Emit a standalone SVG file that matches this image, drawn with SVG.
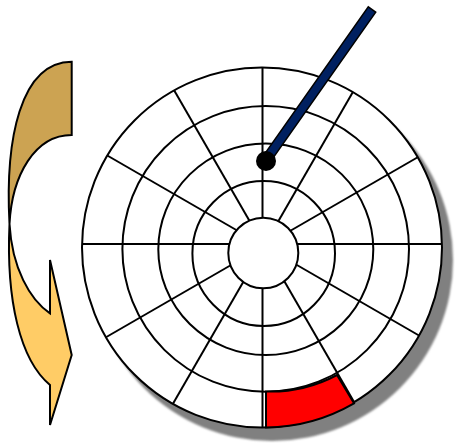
<svg xmlns="http://www.w3.org/2000/svg" width="456" height="447" viewBox="0 0 456 447">
  <style>
    .ln { stroke: #000; stroke-width: 2; fill: none; }
    .ring { stroke: #000; stroke-width: 2; fill: none; }
    .arrow { stroke: #000; stroke-width: 2; stroke-linejoin: miter; }
  </style>
  <defs>
    <filter id="blur" x="-10%" y="-10%" width="120%" height="120%">
      <feGaussianBlur stdDeviation="1"/>
    </filter>
    <clipPath id="disk">
      <circle cx="262" cy="247.5" r="180"/>
    </clipPath>
  </defs>
  <rect width="456" height="447" fill="#fff"/>

  <g id="arrow">
    <path class="arrow" fill="#CCA352" d="M71.7,61.7 L71.7,135 C35,135 12,175 9.5,224 C5,140 20,62 71.7,61.7 Z"/>
    <path class="arrow" fill="#FFCC66" d="M9.5,224 C6,300 20,360 50,385 L50,425 L71.7,355 L50,260 L50,313.3 C30,300 12,268 9.5,224 Z"/>
  </g>

  <g id="disk-shadow">
    <circle cx="272" cy="260" r="181" fill="#808080" filter="url(#blur)"/>
  </g>

  <g id="disk-node">
    <circle cx="262" cy="247.5" r="180" fill="#fff"/>
    <ellipse class="ring" cx="265.7" cy="248.9" rx="143.3" ry="142.8"/>
    <ellipse class="ring" cx="265.8" cy="249.2" rx="107.5" ry="105.8"/>
    <ellipse class="ring" cx="263.7" cy="253.5" rx="71.3" ry="72.5"/>
  </g>

  <g id="connectors" clip-path="url(#disk)">
    <line class="ln" x1="262.5" y1="60" x2="262.5" y2="435"/>
    <line class="ln" x1="75" y1="244" x2="450" y2="244"/>
    <line class="ln" x1="356.5" y1="85.8" x2="171.5" y2="406.2"/>
    <line class="ln" x1="424.2" y1="153.5" x2="103.8" y2="338.5"/>
    <line class="ln" x1="424.2" y1="338.5" x2="103.8" y2="153.5"/>
    <line class="ln" x1="356.5" y1="406.2" x2="171.5" y2="85.8"/>
  </g>

  <g id="hub">
    <ellipse cx="263.3" cy="253" rx="35" ry="35.3" fill="#fff" stroke="#000" stroke-width="2"/>
  </g>

  <g id="disk-rim">
    <circle class="ring" cx="262" cy="247.5" r="180"/>
  </g>

  <g id="sector">
    <path d="M266,391.5 A143,143 0 0,0 337,375 L354,403.3 A180,180 0 0,1 266,427.5 Z" fill="#FF0000" stroke="#000" stroke-width="2" stroke-linejoin="miter"/>
  </g>

  <g id="head-arm">
    <polygon points="375.7,12.1 368.3,6.9 262.3,157.4 269.7,162.6" fill="#002060" stroke="#000" stroke-width="1.5"/>
    <circle cx="266" cy="161" r="10" fill="#000"/>
  </g>
</svg>
